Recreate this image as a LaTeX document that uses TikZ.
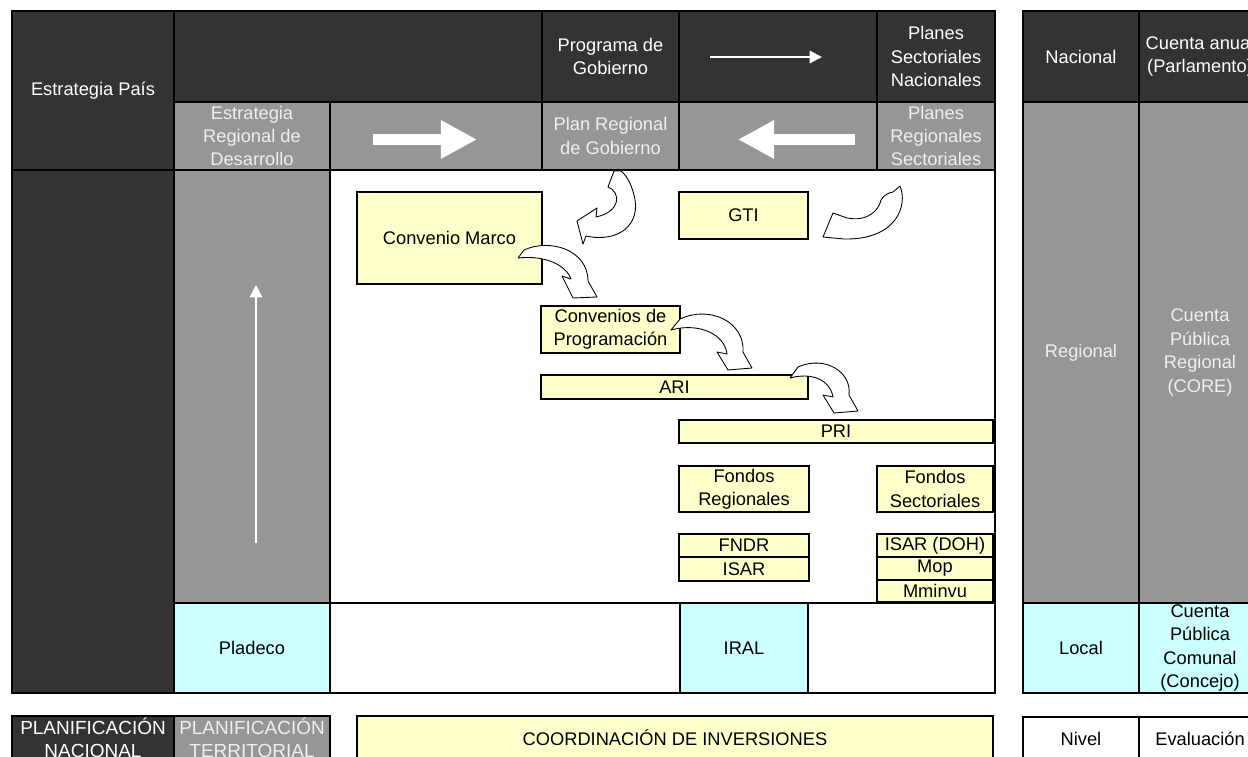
\documentclass[tikz,border=0pt]{standalone}
\usepackage{fontspec}
\setmainfont{Liberation Sans}
\usetikzlibrary{arrows.meta}
\definecolor{cdark}{HTML}{333333}
\definecolor{cgrey}{HTML}{969696}
\definecolor{ccyan}{HTML}{CCFFFF}
\definecolor{cyel}{HTML}{FFFFCC}
\definecolor{clight}{HTML}{F0F0F0}
\newcommand{\mkcell}[7]{\node[#1, minimum width={(#5-#3)*0.02cm}, minimum height={(#6-#4)*0.02cm}]
  (#2) at ({(#3+#5)/2},{(#4+#6)/2}) {#7};}

\begin{document}
\begin{tikzpicture}[x=0.02cm, y=-0.02cm,
    font=\fontsize{10.4}{13.3}\selectfont,
    cell/.style={draw=black, line width=1.1pt, inner sep=0pt, align=center},
    darkcell/.style={cell, fill=cdark, text=white},
    greycell/.style={cell, fill=cgrey, text=clight},
    cyancell/.style={cell, fill=ccyan},
    whitecell/.style={cell, fill=white},
    ybox/.style={cell, fill=cyel, line width=1.4pt},
    caps/.style={font=\fontsize{10.8}{13.3}\selectfont},
    thinarr/.style={draw=white, line width=1.2pt, -{Triangle[length=7pt,width=7pt]}},
    blockarr/.style={draw=white, line width=6.5pt, -{Triangle[length=20.5pt,width=20.5pt]}},
    curvarr/.style={fill=white, draw=black, line width=0.5pt, line join=round}]
\clip (0,0) rectangle (1248,757);
\mkcell{darkcell}{pais}{12}{11}{174}{170}{Estrategia País}
\mkcell{darkcell}{nacvacio}{174}{11}{542}{102}{}
\mkcell{darkcell}{progob}{542}{11}{679}{102}{Programa de\\Gobierno}
\mkcell{darkcell}{nacflecha}{679}{11}{877}{102}{}
\mkcell{darkcell}{psn}{877}{11}{995}{102}{Planes\\Sectoriales\\Nacionales}
\mkcell{greycell}{erd}{174}{102}{330}{170}{Estrategia\\Regional de\\Desarrollo}
\mkcell{greycell}{regflecha1}{330}{102}{542}{170}{}
\mkcell{greycell}{prg}{542}{102}{679}{170}{Plan Regional\\de Gobierno}
\mkcell{greycell}{regflecha2}{679}{102}{877}{170}{}
\mkcell{greycell}{prs}{877}{102}{995}{170}{Planes\\Regionales\\Sectoriales}
\mkcell{darkcell}{nacbajo}{12}{170}{174}{693}{}
\mkcell{greycell}{regcol}{174}{170}{330}{603}{}
\mkcell{whitecell}{zona}{330}{170}{995}{603}{}
\mkcell{cyancell}{pladeco}{174}{603}{330}{693}{Pladeco}
\mkcell{whitecell}{loc1}{330}{603}{680}{693}{}
\mkcell{cyancell}{iral}{680}{603}{808}{693}{IRAL}
\mkcell{whitecell}{loc2}{808}{603}{995}{693}{}

\mkcell{darkcell}{nacional}{1023}{11}{1139}{102}{Nacional}
\mkcell{darkcell}{cuentanac}{1139}{11}{1261}{102}{Cuenta anual\\(Parlamento)}
\mkcell{greycell}{regional}{1023}{102}{1139}{603}{Regional}
\mkcell{greycell}{cuentareg}{1139}{102}{1261}{603}{Cuenta\\Pública\\Regional\\(CORE)}
\mkcell{cyancell}{local}{1023}{603}{1139}{693}{Local}
\mkcell{cyancell}{cuentacom}{1139}{603}{1261}{693}{Cuenta\\Pública\\Comunal\\(Concejo)}

\mkcell{darkcell, caps}{plannac}{12}{716}{174}{760}{PLANIFICACIÓN\\NACIONAL}
\mkcell{greycell, caps}{planter}{174}{716}{330}{760}{PLANIFICACIÓN\\TERRITORIAL}
\mkcell{ybox}{coord}{357}{716}{993}{760}{COORDINACIÓN DE INVERSIONES}
\mkcell{whitecell}{nivel}{1023}{717}{1139}{760}{Nivel}
\mkcell{whitecell}{evalua}{1139}{717}{1261}{760}{Evaluación}

\mkcell{ybox}{marco}{357}{192}{542}{284}{Convenio Marco}
\mkcell{ybox}{gti}{679}{192}{808}{239}{GTI}
\mkcell{ybox}{progr}{541}{306}{680}{353}{Convenios de\\Programación}
\mkcell{ybox}{ari}{541}{375}{808}{399}{ARI}
\mkcell{ybox}{pri}{679}{420}{993}{443}{PRI}
\mkcell{ybox}{fondreg}{679}{466}{809}{512}{Fondos\\Regionales}
\mkcell{ybox}{fondsec}{877}{466}{993}{512}{Fondos\\Sectoriales}
\mkcell{ybox}{fndr}{679}{534}{809}{557}{FNDR}
\mkcell{ybox}{isar}{679}{557}{809}{581}{ISAR}
\mkcell{ybox}{isardoh}{877}{534}{993}{557}{ISAR (DOH)}
\mkcell{ybox}{mop}{877}{557}{993}{580}{Mop}
\mkcell{ybox}{mminvu}{877}{580}{993}{602}{Mminvu}

\coordinate (a1) at (710,57); \coordinate (a2) at (822,57);
\draw[thinarr] (a1) -- (a2);
\coordinate (b1) at (373,139.5); \coordinate (b2) at (477,139.5);
\draw[blockarr] (b1) -- (b2);
\coordinate (b3) at (855,139.5); \coordinate (b4) at (738,139.5);
\draw[blockarr] (b3) -- (b4);
\coordinate (c1) at (256,543); \coordinate (c2) at (256,285);
\draw[thinarr] (c1) -- (c2);

\draw[curvarr] (614,171) -- (608,187) .. controls (622,193) and (620,212) .. (596,217)
  -- (597,208) -- (577,221) -- (583,244) -- (586,236)
  .. controls (618,243) and (642,225) .. (634,195) .. controls (631,183) and (626,175) .. (621,171) -- cycle;
\draw[curvarr] (893,192) -- (900,186) .. controls (908,205) and (897,240) .. (844,239)
  -- (823,237) -- (833,213) -- (847,218)
  .. controls (868,222) and (879,210) .. (881,200) .. controls (884,195) and (888,193) .. (893,192) -- cycle;
\draw[curvarr] (518,258) -- (524,250) .. controls (550,238) and (588,250) .. (588,281)
  -- (597,297) -- (573,298) -- (562,276) -- (571,279)
  .. controls (566,265) and (545,255) .. (518,258) -- cycle;
\draw[curvarr] (671,330) -- (680,319) .. controls (710,305) and (745,322) .. (743,352)
  -- (752,368) -- (728,370) -- (717,352) -- (727,354)
  .. controls (725,335) and (700,322) .. (671,330) -- cycle;
\draw[curvarr] (790,378) -- (798,367) .. controls (825,355) and (852,372) .. (849,395)
  -- (858,411) -- (834,413) -- (823,395) -- (833,397)
  .. controls (830,380) and (812,372) .. (790,378) -- cycle;
\end{tikzpicture}
\end{document}
